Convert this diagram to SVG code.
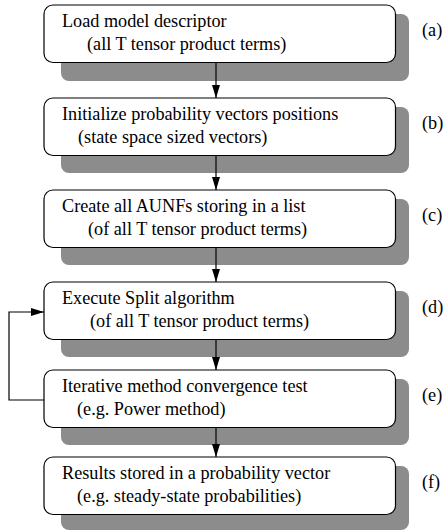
<svg xmlns="http://www.w3.org/2000/svg" width="446" height="531" viewBox="0 0 446 531">
<style>
.box{fill:#fff;stroke:#000;stroke-width:1.2}
.sh{fill:#8c8c8c}
text{font-family:"Liberation Serif","Times New Roman",serif;font-size:18.2px;fill:#000}
.ln{stroke:#000;stroke-width:1.2;fill:none}
</style>
<defs>
<marker id="ah" markerWidth="13" markerHeight="8" refX="13" refY="4" orient="auto" markerUnits="userSpaceOnUse">
<path d="M0,0 L13,4 L0,8 Z" fill="#000"/>
</marker>
</defs>
<rect width="446" height="531" fill="#fff"/>
<g id="node-a">
<rect class="sh" x="61" y="14" width="348" height="67" rx="8"/>
<rect class="box" x="44" y="5" width="351.5" height="57.5" rx="9"/>
<text x="62" y="27">Load model descriptor</text>
<text x="87" y="49.5">(all T tensor product terms)</text>
<text x="422" y="36">(a)</text>
</g>
<g id="node-b">
<rect class="sh" x="61" y="107" width="348" height="66" rx="8"/>
<rect class="box" x="44" y="98" width="351.5" height="57.5" rx="9"/>
<text x="62" y="120">Initialize probability vectors positions</text>
<text x="78" y="142.5">(state space sized vectors)</text>
<text x="422" y="129">(b)</text>
</g>
<g id="node-c">
<rect class="sh" x="61" y="199" width="348" height="66" rx="8"/>
<rect class="box" x="44" y="190" width="351.5" height="57.5" rx="9"/>
<text x="62" y="212">Create all AUNFs storing in a list</text>
<text x="88" y="234.5">(of all T tensor product terms)</text>
<text x="422" y="221">(c)</text>
</g>
<g id="node-d">
<rect class="sh" x="61" y="291" width="348" height="66" rx="8"/>
<rect class="box" x="44" y="282" width="351.5" height="57.5" rx="9"/>
<text x="62" y="304">Execute Split algorithm</text>
<text x="90" y="326.5">(of all T tensor product terms)</text>
<text x="422" y="313">(d)</text>
</g>
<g id="node-e">
<rect class="sh" x="61" y="379" width="348" height="66" rx="8"/>
<rect class="box" x="44" y="370" width="351.5" height="57.5" rx="9"/>
<text x="62" y="392">Iterative method convergence test</text>
<text x="77" y="414.5">(e.g. Power method)</text>
<text x="422" y="401">(e)</text>
</g>
<g id="node-f">
<rect class="sh" x="61" y="466" width="348" height="64" rx="8"/>
<rect class="box" x="44" y="457" width="351.5" height="57.5" rx="9"/>
<text x="62" y="479">Results stored in a probability vector</text>
<text x="77" y="501.5">(e.g. steady-state probabilities)</text>
<text x="422" y="488">(f)</text>
</g>
<g id="connectors">
<line class="ln" x1="216" y1="62.5" x2="216" y2="98" marker-end="url(#ah)"/>
<line class="ln" x1="216" y1="155.5" x2="216" y2="190" marker-end="url(#ah)"/>
<line class="ln" x1="216" y1="247.5" x2="216" y2="282" marker-end="url(#ah)"/>
<line class="ln" x1="216" y1="339.5" x2="216" y2="370" marker-end="url(#ah)"/>
<line class="ln" x1="216" y1="427.5" x2="216" y2="457" marker-end="url(#ah)"/>
<polyline class="ln" points="44,400 9,400 9,312 44,312" marker-end="url(#ah)"/>
</g>
</svg>
